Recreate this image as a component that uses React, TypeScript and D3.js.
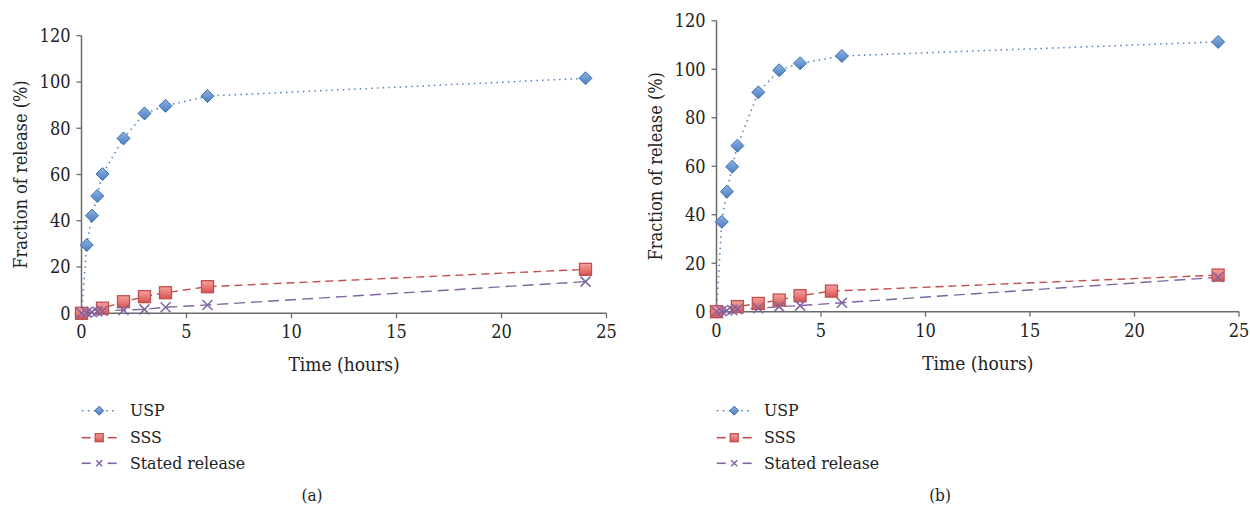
import React from "react";
import * as d3 from "d3";

// ---- Data ----
const timesFull = [0, 0.25, 0.5, 0.75, 1, 2, 3, 4, 6, 24];
const uspA = [0, 29.5, 42.2, 50.7, 60.2, 75.6, 86.4, 89.7, 93.9, 101.6];
const sssTimesA = [0, 1, 2, 3, 4, 6, 24];
const sssA = [0, 2.2, 5.0, 7.2, 8.9, 11.5, 19.0];
const statedA = [0, 0.3, 0.5, 0.8, 1.0, 1.4, 1.7, 2.6, 3.6, 13.7];

const uspB = [0, 37.1, 49.5, 59.8, 68.5, 90.5, 99.6, 102.5, 105.5, 111.3];
const sssTimesB = [0, 1, 2, 3, 4, 5.5, 24];
const sssB = [0, 2.1, 3.4, 4.8, 6.6, 8.5, 15.1];
const statedB = [0, 0.3, 0.5, 0.7, 1.0, 1.4, 2.1, 2.5, 3.7, 14.2];

const xTicks = [0, 5, 10, 15, 20, 25];
const yTicks = [0, 20, 40, 60, 80, 100, 120];
const seriesNames = ["USP", "SSS", "Stated release"];
const xTitle = "Time (hours)";
const yTitle = "Fraction of release (%)";

const FONT = "'DejaVu Serif Condensed', 'DejaVu Serif', serif";
const AXIS = "#6b6b6b";
const BLUE = "#4F81BD";
const RED = "#C0504D";
const PURPLE = "#8064A2";

type Pt = [number, number];

function zip(xs: number[], ys: number[]): Pt[] {
  return xs.map((x, i) => [x, ys[i]] as Pt);
}

function Diamond({ x, y, r }: { x: number; y: number; r: number }) {
  return (
    <path
      d={`M${x},${y - r}L${x + r},${y}L${x},${y + r}L${x - r},${y}Z`}
      fill="url(#gBlue)"
      stroke="#3C6FB0"
      strokeWidth={1}
    />
  );
}
function Square({ x, y, r }: { x: number; y: number; r: number }) {
  return (
    <rect
      x={x - r}
      y={y - r}
      width={2 * r}
      height={2 * r}
      fill="url(#gRed)"
      stroke="#C0504D"
      strokeWidth={1.3}
    />
  );
}
function Cross({ x, y, r }: { x: number; y: number; r: number }) {
  return (
    <path
      d={`M${x - r},${y - r}L${x + r},${y + r}M${x - r},${y + r}L${x + r},${y - r}`}
      stroke={PURPLE}
      strokeWidth={1.5}
      fill="none"
    />
  );
}

const dashUSP = "1.5 4.2";
const dashSSS = "8 5";
const dashStated = "11 6";

const textStyle: React.CSSProperties = { fontFamily: FONT };

function Panel({
  x0, x1, y0, y1, usp, sssT, sss, stated, label, legendX, legendTextX, labelX,
}: {
  x0: number; x1: number; y0: number; y1: number;
  usp: number[]; sssT: number[]; sss: number[]; stated: number[];
  label: string; legendX: number; legendTextX: number; labelX: number;
}) {
  const xs = d3.scaleLinear().domain([0, 25]).range([x0, x1]);
  const ys = d3.scaleLinear().domain([0, 120]).range([y0, y1]);
  const line = d3.line<Pt>().x((d) => xs(d[0])).y((d) => ys(d[1]));
  const uspPts = zip(timesFull, usp);
  const sssPts = zip(sssT, sss);
  const stPts = zip(timesFull, stated);
  const legY = [410.7, 437.7, 463.3];
  const lx0 = legendX, lx1 = legendX + 35, lxm = legendX + 17.5;
  return (
    <g style={textStyle}>
      {/* axes */}
      <line x1={x0} x2={x0} y1={ys(120)} y2={y0} stroke={AXIS} strokeWidth={1.5} />
      <line x1={x0} x2={x1} y1={y0} y2={y0} stroke={AXIS} strokeWidth={1.5} />
      {yTicks.map((t) => (
        <g key={"y" + t}>
          <line x1={x0 - 5} x2={x0} y1={ys(t)} y2={ys(t)} stroke={AXIS} strokeWidth={1.3} />
          <text x={x0 - 11} y={ys(t)} dy="0.35em" textAnchor="end" fontSize={18} fill="#222">
            {t}
          </text>
        </g>
      ))}
      {xTicks.map((t) => (
        <g key={"x" + t}>
          <line x1={xs(t)} x2={xs(t)} y1={y0} y2={y0 + 5} stroke={AXIS} strokeWidth={1.3} />
          <text x={xs(t)} y={y0 + 25} textAnchor="middle" fontSize={18} fill="#222">
            {t}
          </text>
        </g>
      ))}
      <text x={(x0 + x1) / 2} y={y0 + 58} textAnchor="middle" fontSize={19} fill="#222">
        {xTitle}
      </text>
      <text
        transform={`translate(${x0 - 61},${(ys(0) + ys(120)) / 2}) rotate(-90)`}
        textAnchor="middle"
        dy="0.35em"
        fontSize={18}
        fill="#222"
      >
        {yTitle}
      </text>

      {/* lines */}
      <path d={line(uspPts) || ""} fill="none" stroke={BLUE} strokeWidth={1.5} strokeDasharray={dashUSP} />
      <path d={line(sssPts) || ""} fill="none" stroke={RED} strokeWidth={1.4} strokeDasharray={dashSSS} />
      <path d={line(stPts) || ""} fill="none" stroke={PURPLE} strokeWidth={1.4} strokeDasharray={dashStated} />

      {/* markers */}
      {uspPts.map((p, i) => (
        <Diamond key={"d" + i} x={xs(p[0])} y={ys(p[1])} r={6.5} />
      ))}
      {sssPts.map((p, i) => (
        <Square key={"s" + i} x={xs(p[0])} y={ys(p[1])} r={6} />
      ))}
      {stPts.map((p, i) => (
        <Cross key={"c" + i} x={xs(p[0])} y={ys(p[1])} r={5} />
      ))}

      {/* legend */}
      <line x1={lx0} x2={lx1} y1={legY[0]} y2={legY[0]} stroke={BLUE} strokeWidth={1.6} strokeDasharray="1.6 4.5" />
      <Diamond x={lxm} y={legY[0]} r={4.5} />
      <line x1={lx0} x2={lx0 + 9} y1={legY[1]} y2={legY[1]} stroke={RED} strokeWidth={1.6} />
      <line x1={lx1 - 9} x2={lx1} y1={legY[1]} y2={legY[1]} stroke={RED} strokeWidth={1.6} />
      <Square x={lxm} y={legY[1]} r={4} />
      <line x1={lx0} x2={lx0 + 9} y1={legY[2]} y2={legY[2]} stroke={PURPLE} strokeWidth={1.6} />
      <line x1={lx1 - 9} x2={lx1} y1={legY[2]} y2={legY[2]} stroke={PURPLE} strokeWidth={1.6} />
      <Cross x={lxm} y={legY[2]} r={3} />
      {seriesNames.map((n, i) => (
        <text key={n} x={legendTextX} y={legY[i]} dy="0.33em" fontSize={17.5} fill="#222">
          {n}
        </text>
      ))}

      <text x={labelX} y={495} dy="0.35em" textAnchor="middle" fontSize={17} fill="#222">
        {label}
      </text>
    </g>
  );
}

export default function App() {
  return (
    <svg
      width={1250}
      height={512}
      style={{ position: "absolute", left: 0, top: 0, background: "#fff" }}
    >
      <defs>
        <linearGradient id="gBlue" x1="0" y1="0" x2="0" y2="1">
          <stop offset="0" stopColor="#8DB3E2" />
          <stop offset="1" stopColor="#4A7EC0" />
        </linearGradient>
        <linearGradient id="gRed" x1="0" y1="0" x2="0" y2="1">
          <stop offset="0" stopColor="#F5A3A1" />
          <stop offset="1" stopColor="#D9534F" />
        </linearGradient>
      </defs>
      <rect width={1250} height={512} fill="#fff" />
      <Panel
        x0={81.5} x1={606.5} y0={313.3} y1={35.7}
        usp={uspA} sssT={sssTimesA} sss={sssA} stated={statedA}
        label="(a)" legendX={81.7} legendTextX={130} labelX={312}
      />
      <Panel
        x0={716.5} x1={1239} y0={311.7} y1={20.8}
        usp={uspB} sssT={sssTimesB} sss={sssB} stated={statedB}
        label="(b)" legendX={716.7} legendTextX={764} labelX={940}
      />
    </svg>
  );
}
